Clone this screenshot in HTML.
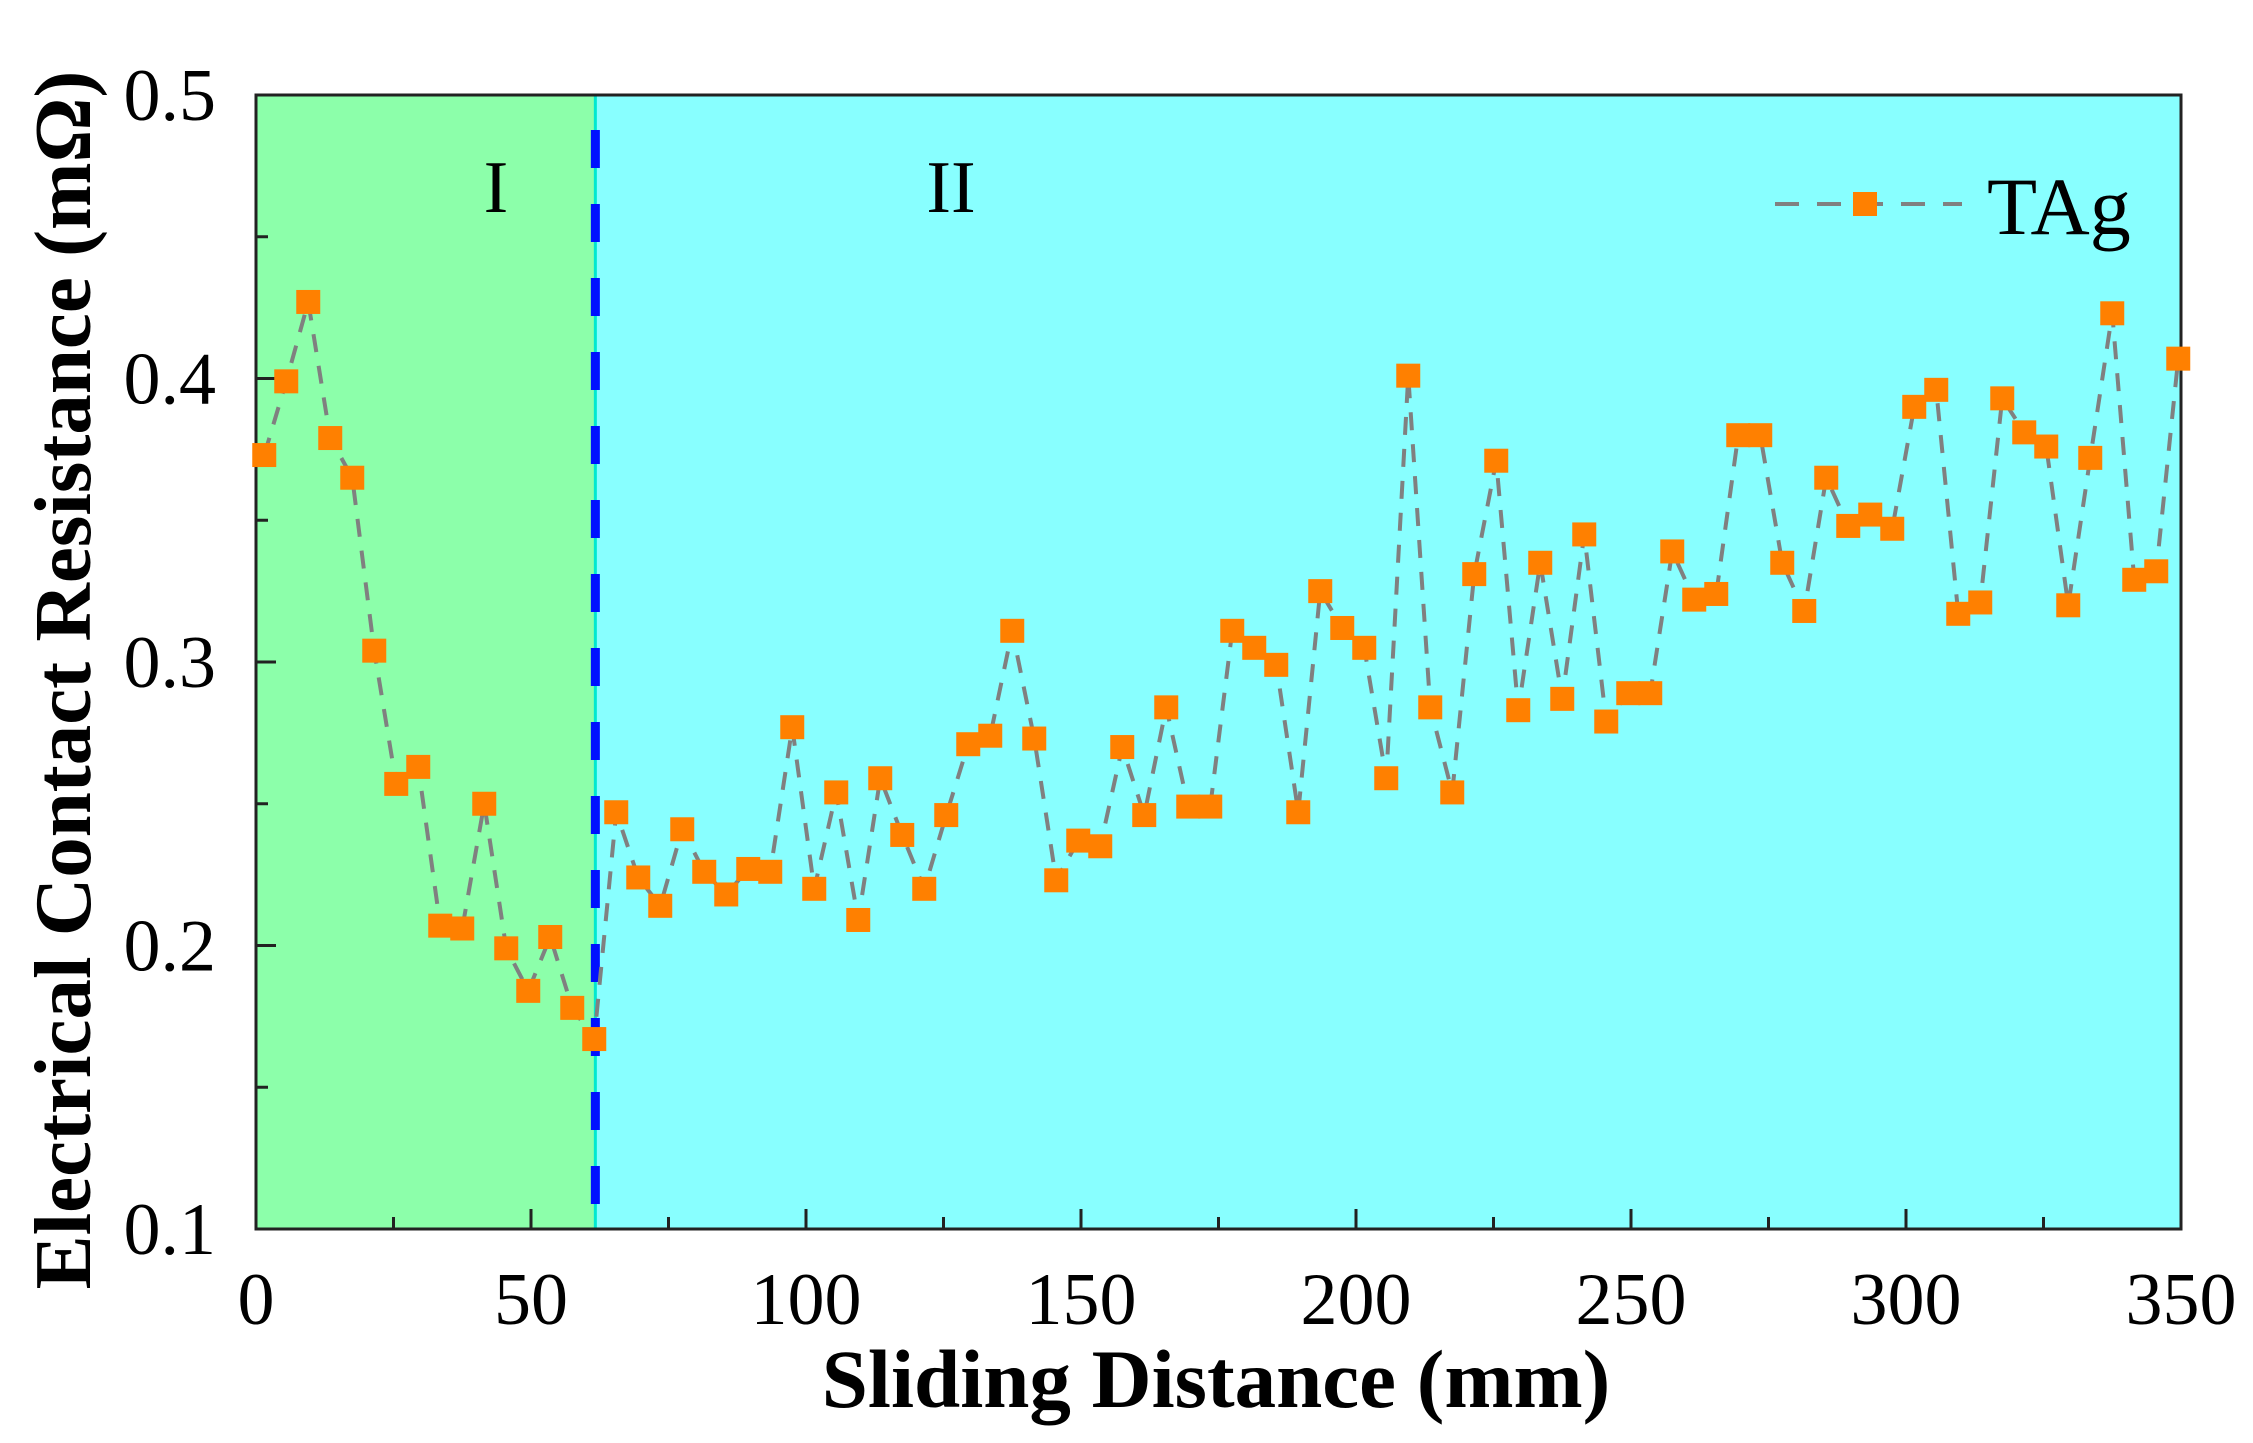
<!DOCTYPE html>
<html><head><meta charset="utf-8"><style>
html,body{margin:0;padding:0;background:#fff;}
svg{display:block;font-family:"Liberation Serif",serif;}
</style></head><body>
<svg id="chart" width="2253" height="1443" viewBox="0 0 2253 1443" xmlns="http://www.w3.org/2000/svg">
<g id="bg"></g>
<g id="axes"></g>
<g id="series"></g>
<text x="496" y="212" font-size="74" text-anchor="middle">I</text>
<text x="951" y="212" font-size="74" text-anchor="middle">II</text>
<g>
<line x1="1775" y1="204" x2="1962" y2="204" stroke="#808080" stroke-width="4" stroke-dasharray="24,18"/>
<rect x="1853" y="192" width="24" height="24" fill="#ff8000"/>
<text x="1987" y="234" font-size="82">TAg</text>
</g>
<text x="1216" y="1407" font-size="83" font-weight="bold" text-anchor="middle">Sliding Distance (mm)</text>
<text transform="translate(90,680) rotate(-90)" font-size="81" font-weight="bold" text-anchor="middle">Electrical Contact Resistance (mΩ)</text>
</svg>
<script>
const xTicks=[0,50,100,150,200,250,300,350];
const yTicks=[0.1,0.2,0.3,0.4,0.5];
const yTickLabels=["0.1","0.2","0.3","0.4","0.5"];
const boundary=61.7;
const xStart=1.5, xStep=4;
const resistance=[0.373,0.399,0.427,0.379,0.365,0.304,0.257,0.263,0.207,0.206,0.250,0.199,0.184,0.203,0.178,0.167,0.247,0.224,0.214,0.241,0.226,0.218,0.227,0.226,0.277,0.220,0.254,0.209,0.259,0.239,0.220,0.246,0.271,0.274,0.311,0.273,0.223,0.237,0.235,0.270,0.246,0.284,0.249,0.249,0.311,0.305,0.299,0.247,0.325,0.312,0.305,0.259,0.401,0.284,0.254,0.331,0.371,0.283,0.335,0.287,0.345,0.279,0.289,0.289,0.339,0.322,0.324,0.380,0.380,0.335,0.318,0.365,0.348,0.352,0.347,0.390,0.396,0.317,0.321,0.393,0.381,0.376,0.320,0.372,0.423,0.329,0.332,0.407];

const L=256,R=2181,T=95,B=1229;
const xs=v=>L+(v/350)*(R-L);
const ys=v=>B-(v-0.1)/0.4*(B-T);
const NS="http://www.w3.org/2000/svg";
function mk(tag,attrs,parent){const e=document.createElementNS(NS,tag);for(const k in attrs)e.setAttribute(k,attrs[k]);parent.appendChild(e);return e;}
const bg=document.getElementById('bg'),ax=document.getElementById('axes'),se=document.getElementById('series');
const bx=xs(boundary);
let r1=mk('rect',{x:L,y:T,width:bx-L,height:B-T,fill:'#8cffaa'},bg);


let r2=mk('rect',{x:bx,y:T,width:R-bx,height:B-T,fill:'#88ffff'},bg);


let cl=mk('line',{x1:bx,y1:T,x2:bx,y2:B,stroke:'#00e8d0','stroke-width':3},bg);


let dl=mk('line',{x1:bx,y1:T+5,x2:bx,y2:B,stroke:'#0010ff','stroke-width':9,'stroke-dasharray':'38,36','stroke-dashoffset':'-30'},bg);


let fr=mk('rect',{x:L,y:T,width:R-L,height:B-T,fill:'none',stroke:'#222','stroke-width':3},ax);


for(let v=0;v<=350;v+=25){
  const major=v%50===0;const len=major?20:12;
  let t=mk('line',{x1:xs(v),y1:B,x2:xs(v),y2:B-len,stroke:'#222','stroke-width':3},ax);
  
  
}
xTicks.forEach(v=>{
  let t=mk('text',{x:xs(v),y:1324,'font-size':74,'text-anchor':'middle'},ax);t.textContent=String(v);
  
  
});
for(let k=0;k<=8;k++){
  const v=0.1+k*0.05;const len=(k%2===0)?20:12;
  let t=mk('line',{x1:L,y1:ys(v),x2:L+len,y2:ys(v),stroke:'#222','stroke-width':3},ax);
  
  
}
yTicks.forEach((v,i)=>{
  let t=mk('text',{x:216,y:ys(v)+25,'font-size':74,'text-anchor':'end'},ax);t.textContent=yTickLabels[i];
  
  
});
const pts=resistance.map((v,i)=>[xs(xStart+i*xStep),ys(v)]);
let pl=mk('polyline',{points:pts.map(p=>p.join(',')).join(' '),fill:'none',stroke:'#808080','stroke-width':4,'stroke-dasharray':'18,14'},se);


pts.forEach(p=>{
  let m=mk('rect',{x:p[0]-12,y:p[1]-12,width:24,height:24,fill:'#ff8000'},se);
  
  
});
</script>
</body></html>
